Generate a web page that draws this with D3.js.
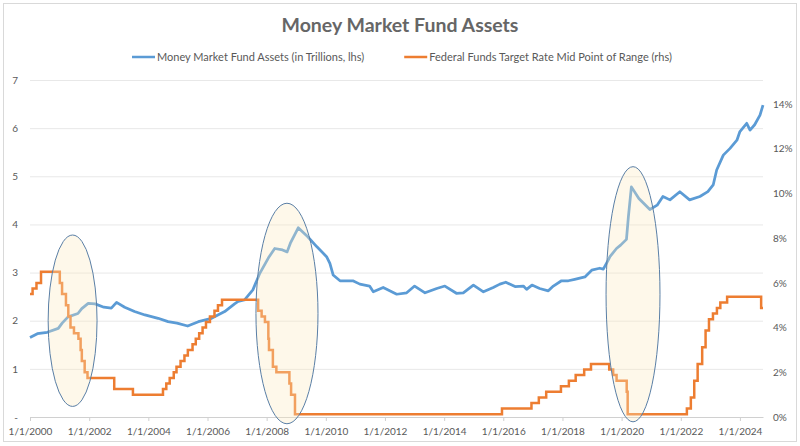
<!DOCTYPE html>
<html>
<head>
<meta charset="utf-8">
<script src="https://cdn.jsdelivr.net/npm/d3@7"></script>
<style>
  body { margin: 0; background: #fff; }
  text { font-family: Lato, "Open Sans", sans-serif; }
</style>
</head>
<body>
<div id="chart-area"></div>
<script>
// money market fund assets, trillions
const mmfDates = [
  "2000-01-01","2000-04-01","2000-08-01","2000-12-15","2001-02-01","2001-04-15","2001-08-15","2001-10-01",
  "2001-12-20","2002-03-15","2002-07-01","2002-10-01","2002-12-05","2003-03-15","2003-07-15","2003-11-20",
  "2004-05-01","2004-09-01","2004-12-20","2005-05-01","2005-09-10","2006-02-20","2006-08-01","2006-12-01",
  "2007-01-15","2007-04-01","2007-07-15","2007-10-10","2008-02-01","2008-04-10","2008-07-15","2008-09-10",
  "2008-10-20","2009-01-25","2009-05-20","2009-09-10","2010-01-10","2010-02-20","2010-04-01","2010-06-25",
  "2010-12-01","2011-02-25","2011-06-25","2011-08-10","2011-12-10","2012-05-25","2012-09-25","2013-01-01",
  "2013-05-10","2013-10-01","2014-01-10","2014-06-01","2014-08-25","2014-12-28","2015-05-01","2015-08-30",
  "2015-11-20","2016-02-01","2016-05-25","2016-09-05","2016-10-15","2016-12-20","2017-03-25","2017-07-10",
  "2017-09-10","2017-12-20","2018-03-15","2018-06-01","2018-10-05","2018-12-28","2019-04-05","2019-05-20",
  "2019-07-20","2019-08-10","2019-10-30","2019-12-20","2020-03-01","2020-03-25","2020-05-01","2020-08-01",
  "2020-12-15","2021-03-15","2021-05-25","2021-08-20","2021-12-20","2022-04-20","2022-08-25","2022-12-01",
  "2023-02-05","2023-03-20","2023-06-10","2023-09-01","2023-11-25","2024-01-01","2024-03-25","2024-05-05",
  "2024-07-01","2024-09-05","2024-10-12"
];
const mmfValues = [
  1.65,1.73,1.76,1.84,1.95,2.08,2.15,2.25,
  2.36,2.35,2.28,2.26,2.38,2.28,2.19,2.12,
  2.05,1.98,1.95,1.89,1.98,2.05,2.19,2.35,
  2.40,2.43,2.64,2.99,3.33,3.50,3.47,3.43,
  3.61,3.93,3.75,3.54,3.33,3.19,2.95,2.83,
  2.83,2.76,2.72,2.60,2.69,2.55,2.58,2.72,
  2.58,2.67,2.72,2.57,2.58,2.74,2.60,2.69,
  2.76,2.80,2.71,2.72,2.65,2.74,2.67,2.62,
  2.72,2.83,2.83,2.86,2.91,3.05,3.09,3.07,
  3.26,3.33,3.50,3.57,3.69,4.16,4.78,4.54,
  4.31,4.40,4.58,4.51,4.68,4.51,4.58,4.68,
  4.82,5.13,5.44,5.58,5.75,5.93,6.10,5.96,
  6.07,6.27,6.48
];

// fed funds target rate, mid point of range (%)
const rateDates = [
  "2000-01-01","2000-02-02","2000-03-21","2000-05-16","2001-01-03","2001-01-31","2001-03-20","2001-04-18",
  "2001-05-15","2001-06-27","2001-08-21","2001-09-17","2001-10-02","2001-11-06","2001-12-11","2002-11-06",
  "2003-06-25","2004-06-30","2004-08-10","2004-09-21","2004-11-10","2004-12-14","2005-02-02","2005-03-22",
  "2005-05-03","2005-06-30","2005-08-09","2005-09-20","2005-11-01","2005-12-13","2006-01-31","2006-03-28",
  "2006-05-10","2006-06-29","2007-09-18","2007-10-31","2007-12-11","2008-01-22","2008-01-30","2008-03-18",
  "2008-04-30","2008-10-08","2008-10-29","2008-12-16","2015-12-16","2016-12-14","2017-03-15","2017-06-14",
  "2017-12-13","2018-03-21","2018-06-13","2018-09-26","2018-12-19","2019-08-01","2019-09-19","2019-10-31",
  "2020-03-04","2020-03-16","2022-03-17","2022-05-05","2022-06-16","2022-07-28","2022-09-22","2022-11-03",
  "2022-12-15","2023-02-02","2023-03-23","2023-05-04","2023-07-27","2024-09-19","2024-10-12"
];
const rateValues = [
  5.5,5.75,6.0,6.5,6.0,5.5,5.0,4.5,
  4.0,3.75,3.5,3.0,2.5,2.0,1.75,1.25,
  1.0,1.25,1.5,1.75,2.0,2.25,2.5,2.75,
  3.0,3.25,3.5,3.75,4.0,4.25,4.5,4.75,
  5.0,5.25,4.75,4.5,4.25,3.5,3.0,2.25,
  2.0,1.5,1.0,0.125,0.375,0.625,0.875,1.125,
  1.375,1.625,1.875,2.125,2.375,2.125,1.875,1.625,
  1.125,0.125,0.375,0.875,1.625,2.375,3.125,3.875,
  4.375,4.625,4.875,5.125,5.375,4.875,4.875
];

const seriesNames = ["Money Market Fund Assets (in Trillions, lhs)", "Federal Funds Target Rate Mid Point of Range (rhs)"];
const leftTicks = [0, 1, 2, 3, 4, 5, 6, 7];
const rightTicks = [0, 2, 4, 6, 8, 10, 12, 14];
const yearTicks = [2000, 2002, 2004, 2006, 2008, 2010, 2012, 2014, 2016, 2018, 2020, 2022, 2024];

// highlighted periods: centre date / value, half width in days, half height in trillions
const ovalDates = ["2001-06-10", "2008-09-08", "2020-05-21"];
const ovalValues = [2.0, 2.15, 2.55];
const ovalHalfDays = [302, 383, 333];
const ovalHalfValues = [1.78, 2.29, 2.65];

const margin = {left: 30, right: 37, top: 80, bottom: 29};
const width = 800 - margin.left - margin.right;
const height = 446 - margin.top - margin.bottom;
const parse = d3.timeParse("%Y-%m-%d");

let root = d3.select("#chart-area")
  .append("svg")
  .attr("width", 800)
  .attr("height", 446);

root.append("rect")
  .attr("x", 3.5).attr("y", 3.5)
  .attr("width", 793).attr("height", 438)
  .attr("fill", "#fff")
  .attr("stroke", "#d9d9d9");

let svg = root.append("g")
  .attr("transform", `translate(${margin.left}, ${margin.top})`);

let mmf = mmfDates.map((d, i) => ({date: parse(d), value: mmfValues[i]}));
let rate = rateDates.map((d, i) => ({date: parse(d), value: rateValues[i]}));

//scales
let x = d3.scaleTime()
  .domain([parse(mmfDates[0]), parse(mmfDates[mmfDates.length - 1])])
  .range([0, width]);

let y = d3.scaleLinear()
  .domain([0, 7])
  .range([height, 0]);

let y2 = d3.scaleLinear()
  .domain([0, 14])
  .range([height, y(6.5)]);

//gridlines + left axis
let yAxis = d3.axisLeft(y)
  .tickValues(leftTicks)
  .tickSize(-width)
  .tickPadding(12)
  .tickFormat(d => d === 0 ? "-" : d);
let gy = svg.append("g").call(yAxis);
gy.select(".domain").remove();
gy.selectAll(".tick line").attr("stroke", "#e8e8e8");
gy.selectAll(".tick text").attr("fill", "#595959").attr("font-size", "10px");

//right axis
let yAxis2 = d3.axisRight(y2)
  .tickValues(rightTicks)
  .tickSize(0)
  .tickPadding(10)
  .tickFormat(d => d + "%");
let gy2 = svg.append("g")
  .attr("transform", `translate(${width}, 0)`)
  .call(yAxis2);
gy2.select(".domain").remove();
gy2.selectAll(".tick text").attr("fill", "#595959").attr("font-size", "10px");

//x axis
let xAxis = d3.axisBottom(x)
  .tickValues(yearTicks.map(yr => new Date(yr, 0, 1)))
  .tickSize(4)
  .tickPadding(7)
  .tickSizeOuter(0)
  .tickFormat(d3.timeFormat("%-m/%-d/%Y"));
let gx = svg.append("g")
  .attr("transform", "translate(0," + height + ")")
  .call(xAxis);
gx.select(".domain").attr("stroke", "#d0d0d0");
gx.selectAll(".tick line").attr("stroke", "#d0d0d0");
gx.selectAll(".tick text").attr("fill", "#595959").attr("font-size", "10px");

//lines
let line1 = d3.line().x(d => x(d.date)).y(d => y(d.value));
let line2 = d3.line().x(d => x(d.date)).y(d => y2(d.value)).curve(d3.curveStepAfter);

svg.append("path")
  .datum(mmf)
  .attr("d", line1)
  .attr("fill", "none")
  .attr("stroke", "#5b9bd5")
  .attr("stroke-width", 2.75)
  .attr("stroke-linejoin", "round");

svg.append("path")
  .datum(rate)
  .attr("d", line2)
  .attr("fill", "none")
  .attr("stroke", "#ed7d31")
  .attr("stroke-width", 2.5);

//ovals
ovalDates.forEach((d, i) => {
  let c = parse(d);
  let cx = x(c);
  svg.append("ellipse")
    .attr("cx", cx)
    .attr("cy", y(ovalValues[i]))
    .attr("rx", x(d3.timeDay.offset(c, ovalHalfDays[i])) - cx)
    .attr("ry", y(0) - y(ovalHalfValues[i]))
    .attr("fill", "#fdebc0")
    .attr("fill-opacity", 0.33)
    .attr("stroke", "#5a7fa6")
    .attr("stroke-width", 1);
});

//title
root.append("text")
  .attr("x", 400)
  .attr("y", 32)
  .attr("text-anchor", "middle")
  .attr("font-size", "19.5px")
  .attr("font-weight", "bold")
  .attr("fill", "#666")
  .text("Money Market Fund Assets");

//legend
const colors = ["#5b9bd5", "#ed7d31"];
let legend = root.append("g");
let lx = 0;
seriesNames.forEach((name, i) => {
  let item = legend.append("g").attr("transform", `translate(${lx}, 0)`);
  item.append("line")
    .attr("x1", 0).attr("x2", 23)
    .attr("y1", 0).attr("y2", 0)
    .attr("stroke", colors[i])
    .attr("stroke-width", 2.5);
  let t = item.append("text")
    .attr("x", 25)
    .attr("y", 4)
    .attr("font-size", "11px")
    .attr("fill", "#595959")
    .text(name);
  lx += 25 + t.node().getComputedTextLength() + 40;
});
lx -= 40;
legend.attr("transform", `translate(${402 - lx / 2}, 57)`);
</script>
</body>
</html>
